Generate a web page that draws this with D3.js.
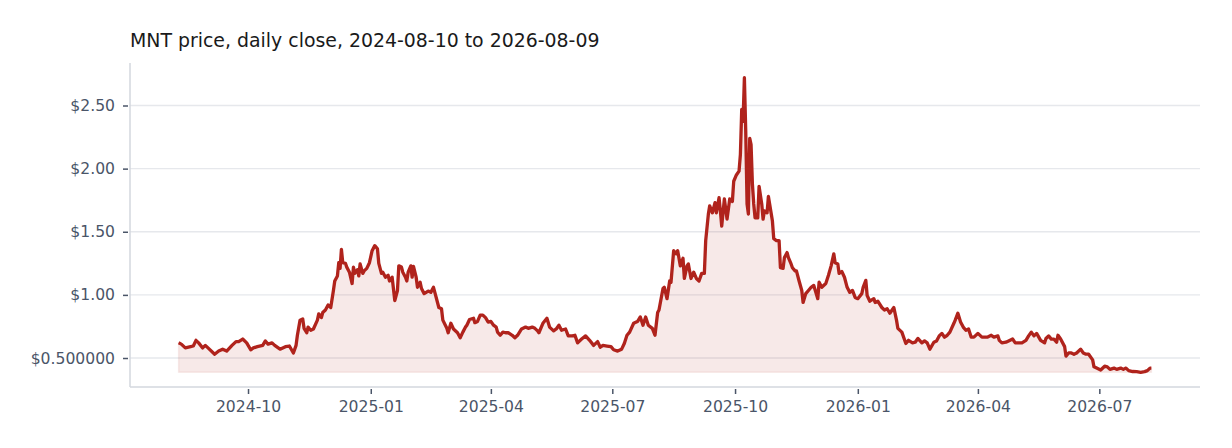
<!DOCTYPE html>
<html>
<head>
<meta charset="utf-8">
<script src="https://cdn.jsdelivr.net/npm/d3@7"></script>
<style>
  body { margin: 0; background: #fff; }
  text { font-family: "DejaVu Sans", sans-serif; }
</style>
</head>
<body>
<script>
// data (days since the first close)
const startDate = "2024-08-10";
const dayIndex = [
  0, 2, 5, 9, 11, 13, 15, 18, 20, 22, 27, 30, 33, 36, 40, 43, 45, 48, 51, 54,
  56, 59, 63, 65, 67, 70, 72, 76, 80, 83, 86, 88, 89, 91, 93, 94, 96, 97, 99, 101,
  104, 105, 107, 108, 110, 112, 114, 116, 117, 119, 120, 121, 122, 123, 125, 126, 128, 130, 131, 132,
  134, 135, 136, 138, 139, 141, 143, 145, 147, 149, 150, 152, 153, 155, 157, 158, 160, 162, 164, 165,
  167, 168, 170, 171, 172, 174, 175, 176, 178, 179, 181, 182, 184, 187, 189, 191, 192, 195, 197, 198,
  201, 202, 204, 206, 207, 209, 211, 213, 215, 216, 218, 221, 222, 224, 226, 228, 230, 232, 234, 236,
  238, 239, 241, 243, 245, 247, 250, 252, 254, 257, 260, 262, 265, 267, 269, 270, 273, 276, 278, 281,
  283, 285, 287, 290, 292, 295, 297, 299, 302, 305, 308, 311, 314, 316, 318, 321, 324, 326, 329, 332,
  334, 336, 338, 341, 343, 344, 346, 348, 350, 352, 355, 357, 359, 360, 363, 364, 366, 368, 369, 371,
  373, 374, 376, 378, 379, 381, 382, 384, 386, 388, 390, 392, 394, 395, 397, 398, 400, 402, 403, 405,
  406, 407, 409, 411, 413, 415, 416, 418, 420, 421, 422, 423, 424, 425, 426, 427, 428, 429, 430, 431,
  432, 434, 435, 437, 438, 439, 441, 442, 444, 445, 446, 448, 450, 451, 453, 454, 456, 457, 459, 460,
  462, 463, 465, 467, 468, 470, 472, 474, 476, 479, 480, 482, 485, 487, 489, 491, 492, 494, 495, 497,
  499, 501, 503, 505, 507, 509, 512, 513, 515, 516, 518, 521, 522, 524, 527, 529, 531, 533, 536, 538,
  539, 542, 545, 547, 550, 552, 554, 557, 559, 561, 563, 566, 568, 570, 572, 574, 576, 578, 581, 582,
  584, 586, 588, 590, 592, 594, 596, 599, 602, 604, 606, 609, 611, 614, 615, 617, 620, 622, 625, 627,
  629, 632, 635, 637, 639, 641, 643, 646, 649, 650, 652, 654, 656, 658, 659, 661, 664, 665, 667, 669,
  671, 673, 676, 678, 680, 682, 685, 686, 688, 691, 694, 696, 698, 701, 703, 706, 708, 710, 712, 715,
  718, 721, 724, 726, 728, 729
];
const closes = [
  0.62, 0.61, 0.58, 0.59, 0.595, 0.64, 0.62, 0.58, 0.60, 0.58, 0.53, 0.555, 0.57, 0.555, 0.60, 0.63, 0.63, 0.65, 0.62, 0.565,
  0.58, 0.59, 0.60, 0.635, 0.61, 0.62, 0.60, 0.57, 0.59, 0.595, 0.54, 0.60, 0.68, 0.80, 0.81, 0.735, 0.70, 0.745, 0.72, 0.73,
  0.80, 0.85, 0.82, 0.86, 0.88, 0.92, 0.90, 1.035, 1.11, 1.15, 1.255, 1.21, 1.36, 1.255, 1.25, 1.22, 1.18, 1.09, 1.22, 1.17,
  1.20, 1.15, 1.245, 1.17, 1.19, 1.21, 1.255, 1.35, 1.39, 1.365, 1.25, 1.17, 1.18, 1.14, 1.155, 1.11, 1.14, 0.955, 1.035, 1.23,
  1.22, 1.18, 1.14, 1.11, 1.18, 1.23, 1.14, 1.225, 1.14, 1.06, 1.10, 1.05, 1.01, 1.03, 1.02, 1.06, 1.02, 0.90, 0.89, 0.80,
  0.735, 0.70, 0.775, 0.73, 0.72, 0.70, 0.66, 0.705, 0.745, 0.76, 0.805, 0.815, 0.78, 0.79, 0.84, 0.84, 0.82, 0.785, 0.79, 0.76,
  0.745, 0.705, 0.68, 0.705, 0.70, 0.70, 0.68, 0.66, 0.68, 0.73, 0.745, 0.735, 0.745, 0.735, 0.715, 0.70, 0.775, 0.815, 0.745, 0.715,
  0.73, 0.76, 0.72, 0.73, 0.675, 0.675, 0.68, 0.62, 0.65, 0.675, 0.64, 0.60, 0.63, 0.585, 0.60, 0.595, 0.59, 0.565, 0.555, 0.57,
  0.615, 0.68, 0.705, 0.775, 0.785, 0.79, 0.825, 0.76, 0.825, 0.76, 0.735, 0.68, 0.86, 0.88, 1.05, 1.06, 0.97, 1.11, 1.10, 1.35,
  1.325, 1.35, 1.23, 1.29, 1.13, 1.23, 1.245, 1.13, 1.18, 1.13, 1.11, 1.17, 1.17, 1.43, 1.64, 1.705, 1.65, 1.73, 1.65, 1.77,
  1.665, 1.545, 1.76, 1.60, 1.76, 1.74, 1.90, 1.95, 1.98, 2.11, 2.47, 2.375, 2.72, 2.30, 1.72, 1.64, 2.24, 2.19, 1.88, 1.72,
  1.61, 1.61, 1.86, 1.72, 1.60, 1.665, 1.65, 1.78, 1.65, 1.585, 1.445, 1.43, 1.43, 1.215, 1.21, 1.295, 1.335, 1.295, 1.245, 1.215,
  1.19, 1.19, 1.11, 1.035, 0.94, 1.01, 1.035, 1.06, 1.075, 0.97, 1.10, 1.06, 1.09, 1.155, 1.23, 1.325, 1.255, 1.245, 1.17, 1.185,
  1.14, 1.06, 1.02, 1.035, 0.98, 0.97, 1.01, 1.06, 1.115, 0.995, 0.95, 0.97, 0.94, 0.95, 0.90, 0.88, 0.89, 0.855, 0.90, 0.80,
  0.735, 0.705, 0.615, 0.64, 0.62, 0.625, 0.655, 0.62, 0.635, 0.62, 0.57, 0.625, 0.635, 0.675, 0.695, 0.665, 0.68, 0.705, 0.775, 0.80,
  0.855, 0.785, 0.745, 0.72, 0.73, 0.665, 0.665, 0.695, 0.665, 0.665, 0.665, 0.68, 0.665, 0.675, 0.64, 0.62, 0.625, 0.635, 0.65, 0.62,
  0.62, 0.62, 0.64, 0.675, 0.705, 0.675, 0.695, 0.64, 0.62, 0.655, 0.675, 0.65, 0.65, 0.625, 0.68, 0.65, 0.59, 0.515, 0.54, 0.54,
  0.53, 0.54, 0.57, 0.54, 0.53, 0.53, 0.485, 0.43, 0.42, 0.405, 0.435, 0.43, 0.41, 0.42, 0.41, 0.42, 0.41, 0.42, 0.40, 0.393,
  0.392, 0.387, 0.392, 0.40, 0.42, 0.42
];
const yTickValues = [0.5, 1.0, 1.5, 2.0, 2.5];
const yTickLabels = ["$0.500000", "$1.00", "$1.50", "$2.00", "$2.50"];
const titleText = "MNT price, daily close, 2024-08-10 to 2026-08-09";

var width = 1232,
    height = 448;
var margin = {top: 63, right: 32, bottom: 61, left: 130};
var lineColor = "#b0231c";

var svg = d3.select("body")
    .append("svg")
    .attr("width", width)
    .attr("height", height);

var start = d3.timeParse("%Y-%m-%d")(startDate);
var data = dayIndex.map(function(d, i) {
    return {date: d3.timeDay.offset(start, d), close: closes[i]};
});

// 5% padding on both axes
var t0 = data[0].date, t1 = data[data.length - 1].date;
var tPad = (t1 - t0) * 0.05;
var x = d3.scaleTime()
    .domain([new Date(+t0 - tPad), new Date(+t1 + tPad)])
    .range([margin.left, width - margin.right]);

var vMin = d3.min(closes), vMax = d3.max(closes);
var vPad = (vMax - vMin) * 0.05;
var y = d3.scaleLinear()
    .domain([vMin - vPad, vMax + vPad])
    .range([height - margin.bottom, margin.top]);

// grid
svg.append("g")
    .selectAll("line")
    .data(yTickValues)
    .enter()
    .append("line")
    .attr("x1", margin.left)
    .attr("x2", width - margin.right)
    .attr("y1", d => y(d))
    .attr("y2", d => y(d))
    .attr("stroke", "#e6e8ec")
    .attr("stroke-width", 1.3);

// area + line
var area = d3.area()
    .x(d => x(d.date))
    .y0(y(vMin))
    .y1(d => y(d.close));

svg.append("path")
    .datum(data)
    .attr("d", area)
    .attr("fill", lineColor)
    .attr("fill-opacity", 0.1)
    .attr("stroke", lineColor)
    .attr("stroke-opacity", 0.08)
    .attr("stroke-width", 1.5);

var line = d3.line()
    .x(d => x(d.date))
    .y(d => y(d.close));

svg.append("path")
    .datum(data)
    .attr("d", line)
    .attr("fill", "none")
    .attr("stroke", lineColor)
    .attr("stroke-width", 3.3)
    .attr("stroke-linejoin", "round");

// axis lines
svg.append("line")
    .attr("x1", margin.left).attr("x2", margin.left)
    .attr("y1", margin.top).attr("y2", height - margin.bottom)
    .attr("stroke", "#d3d7de").attr("stroke-width", 1.5);
svg.append("line")
    .attr("x1", margin.left).attr("x2", width - margin.right)
    .attr("y1", height - margin.bottom).attr("y2", height - margin.bottom)
    .attr("stroke", "#d3d7de").attr("stroke-width", 1.5);

// axes
var xAxis = svg.append("g")
    .attr("transform", "translate(0," + (height - margin.bottom + 2) + ")")
    .call(d3.axisBottom(x)
        .ticks(d3.timeMonth.every(3))
        .tickFormat(d3.timeFormat("%Y-%m"))
        .tickSize(5)
        .tickPadding(7));

var yAxis = svg.append("g")
    .attr("transform", "translate(" + (margin.left - 2) + ",0)")
    .call(d3.axisLeft(y)
        .tickValues(yTickValues)
        .tickFormat((d, i) => yTickLabels[i])
        .tickSize(5)
        .tickPadding(8));

[xAxis, yAxis].forEach(function(g) {
    g.select(".domain").remove();
    g.selectAll(".tick line").attr("stroke", "#4a5568").attr("stroke-width", 1.5);
    g.selectAll(".tick text")
        .attr("fill", "#4a5568")
        .style("font-size", "15.6px")
        .style("font-family", "'DejaVu Sans', sans-serif");
});

svg.append("text")
    .attr("x", 130)
    .attr("y", 47)
    .attr("fill", "#1a1a1a")
    .style("font-size", "18.9px")
    .text(titleText);
</script>
</body>
</html>
